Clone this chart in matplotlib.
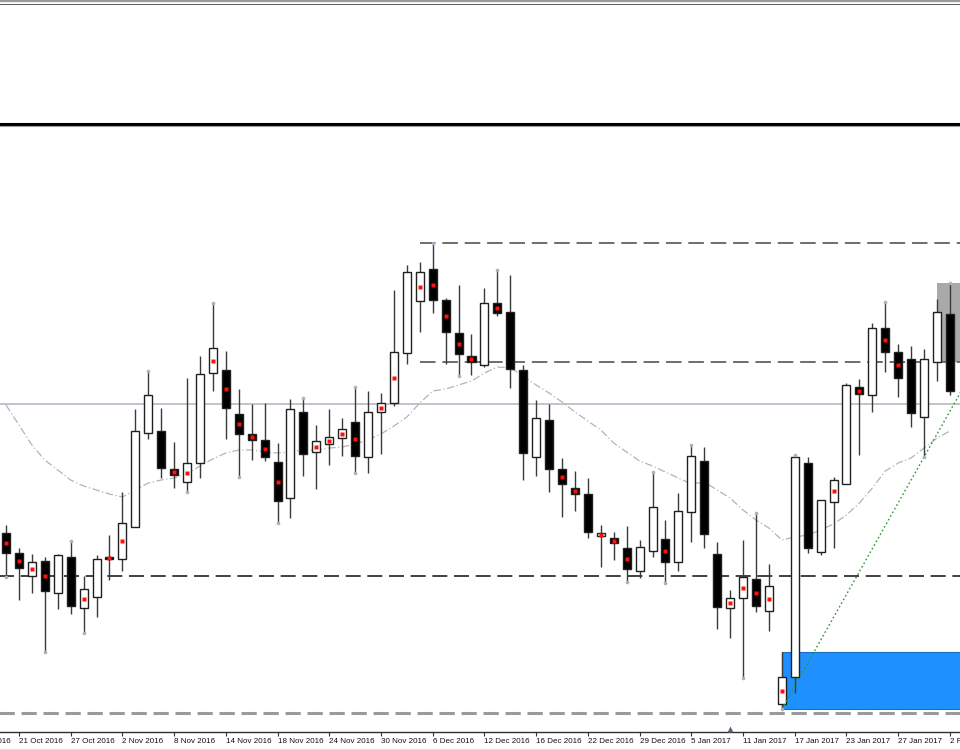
import matplotlib
matplotlib.use("Agg")
import matplotlib.pyplot as plt
import numpy as np
from matplotlib.patches import Rectangle
from matplotlib.lines import Line2D

# ---- data (price points) ----
opens = [467, 447, 424, 439, 407, 443, 392, 403, 443, 441,
         473, 567, 569, 531, 518, 537, 627, 630, 586, 566,
         560, 538, 502, 588, 548, 556, 562, 578, 543, 588,
         597, 647, 699, 731, 700, 667, 644, 635, 697, 688,
         630, 543, 580, 531, 512, 506, 464, 462, 452, 429,
         449, 461, 438, 488, 539, 446, 392, 402, 421, 389,
         296, 323, 537, 448, 498, 516, 613, 605, 672, 648,
         641, 583, 638, 686]
highs = [475, 452, 446, 443, 446, 459, 424, 445, 465, 508,
         591, 629, 592, 558, 622, 644, 697, 649, 611, 596,
         597, 557, 601, 602, 575, 591, 582, 613, 609, 607,
         710, 735, 738, 757, 702, 715, 666, 712, 730, 725,
         635, 600, 596, 542, 529, 522, 475, 468, 474, 460,
         528, 480, 507, 555, 553, 458, 410, 460, 487, 436,
         348, 545, 543, 500, 523, 617, 621, 677, 698, 656,
         654, 651, 701, 717]
lows = [423, 400, 407, 348, 391, 386, 367, 383, 420, 429,
        473, 561, 522, 512, 508, 522, 609, 561, 523, 540,
        539, 477, 482, 524, 511, 535, 544, 527, 527, 546,
        594, 636, 668, 687, 636, 624, 625, 633, 684, 612,
        520, 524, 508, 483, 489, 462, 433, 440, 418, 422,
        443, 417, 429, 458, 452, 371, 362, 322, 388, 369,
        291, 307, 447, 445, 452, 516, 545, 588, 628, 603,
        573, 543, 619, 605]
closes = [447, 432, 438, 409, 445, 394, 411, 441, 441, 477,
          569, 605, 532, 525, 537, 626, 652, 592, 566, 560,
          543, 499, 591, 546, 559, 563, 571, 544, 588, 597,
          648, 728, 728, 700, 668, 646, 638, 697, 687, 631,
          547, 582, 531, 516, 506, 468, 467, 457, 431, 453,
          493, 438, 489, 544, 466, 393, 402, 423, 394, 414,
          323, 543, 452, 500, 520, 615, 606, 672, 648, 622,
          587, 641, 688, 609]
ma_values = [595, 575, 555, 540, 530, 520, 514, 510, 506, 503,
             510, 517, 520, 522, 526, 534, 541, 547, 550, 550,
             548, 547, 548, 550, 550, 552, 553, 556, 560, 566,
             574, 583, 597, 609, 611, 615, 619, 627, 633, 632,
             624, 615, 607, 598, 588, 579, 570, 557, 548, 539,
             534, 528, 522, 516, 518, 510, 502, 490, 480, 472,
             460, 463, 465, 470, 476, 485, 497, 512, 529, 537,
             542, 552, 562, 569]
red_dot_idx = [0, 1, 2, 3, 6, 8, 9, 13, 14, 16, 17, 18, 19, 20, 21, 24, 25, 26,
               27, 29, 30, 32, 33, 34, 35, 36, 38, 43, 44, 46, 47, 48, 51, 56,
               57, 58, 59, 60, 64, 66, 68, 69]
fractal_up_idx = [5, 11, 16, 23, 27, 33, 38, 50, 53, 58, 61, 68, 73]
fractal_dn_idx = [0, 3, 6, 14, 18, 21, 27, 35, 48, 51, 57, 60, 71]

tick_idx = [-3, 1, 5, 9, 13, 17, 21, 25, 29, 33, 37, 41, 45, 49, 53, 57, 61, 65, 69, 73]
tick_labels = ["17 Oct 2016", "21 Oct 2016", "27 Oct 2016", "2 Nov 2016", "8 Nov 2016",
               "14 Nov 2016", "18 Nov 2016", "24 Nov 2016", "30 Nov 2016", "6 Dec 2016",
               "12 Dec 2016", "16 Dec 2016", "22 Dec 2016", "29 Dec 2016", "5 Jan 2017",
               "11 Jan 2017", "17 Jan 2017", "23 Jan 2017", "27 Jan 2017", "2 Feb 2017"]

level_upper = 757
level_mid = 638
level_solid = 596
level_low = 424
level_bottom = 287
level_start_idx = 32
blue_zone_idx = 60
gray_zone_idx = 72
trend_from, trend_to = 60, 71
shift_marker_idx = 56

# ---- figure ----
fig = plt.figure(figsize=(9.6, 7.5), dpi=100)
fig.patch.set_facecolor("white")
W, H = 960.0, 750.0

def fy(py):
    return 1 - py / H

# top window separators
fig.add_artist(Line2D([0, 1], [fy(1), fy(1)], color="#9a9a9a", lw=1.6))
fig.add_artist(Line2D([0, 1], [fy(3.5), fy(3.5)], color="#404040", lw=0.6))
fig.add_artist(Line2D([0, 1], [fy(123.5), fy(123.5)], color="black", lw=2.2))
fig.add_artist(Line2D([0, 1], [fy(126), fy(126)], color="#a0a0a0", lw=0.8))
fig.add_artist(Line2D([0, 1], [fy(748.5), fy(748.5)], color="#e4e4e4", lw=1.0))

ax = fig.add_axes([0, fy(732), 1, (732 - 127) / H])
ax.set_facecolor("white")
x = np.arange(len(opens))
o = np.array(opens); h = np.array(highs); l = np.array(lows); c = np.array(closes)

# zones
ax.add_patch(Rectangle((blue_zone_idx, lows[blue_zone_idx]), 80,
                       highs[blue_zone_idx] - lows[blue_zone_idx],
                       facecolor="#1e90ff", edgecolor="#1a70c0", lw=0.8, zorder=1))
ax.add_patch(Rectangle((gray_zone_idx, level_mid), 80, highs[73] - level_mid,
                       facecolor="#a9a9a9", edgecolor="none", zorder=1))

# levels
ax.axhline(level_solid, color="#b8c0cc", lw=1.3, zorder=1.5)
ax.plot([level_start_idx, 80], [level_upper, level_upper], color="#6e6e6e", lw=1.4,
        dashes=(8, 3.5), zorder=1.5)
ax.plot([level_start_idx, 80], [level_mid, level_mid], color="#6e6e6e", lw=1.4,
        dashes=(8, 3.5), zorder=1.5)
ax.plot([-5, 80], [level_low, level_low], color="#202020", lw=1.2,
        dashes=(9, 4), zorder=1.5)
ax.plot([-5, 80], [level_bottom, level_bottom], color="#9a9a9a", lw=2.2,
        dashes=(5, 2.2), zorder=1.5)

# moving average
ax.plot(x, ma_values, color="#b4b4b4", lw=0.9, linestyle=(0, (6, 2, 1, 2)), zorder=1.6)

# trend line
slope = (lows[trend_to] - lows[trend_from]) / (trend_to - trend_from)
xe = np.array([trend_from, 80])
ax.plot(xe, lows[trend_from] + slope * (xe - trend_from), color="#2e9a2e", lw=1.0,
        linestyle=(0, (1.2, 1.8)), zorder=3.5)

# candles
ax.vlines(x, l, h, color="#3a3a3a", lw=1.0, zorder=2)
bull = c >= o
bw = 0.62
body_bottom = np.minimum(o, c)
body_h = np.maximum(np.abs(c - o), 0.6)
ax.bar(x[bull], body_h[bull], bottom=body_bottom[bull], width=bw,
       color="white", edgecolor="#202020", lw=1.0, zorder=3)
ax.bar(x[~bull], body_h[~bull], bottom=body_bottom[~bull], width=bw,
       color="black", edgecolor="#202020", lw=1.0, zorder=3)

# red dots
rd = np.array(red_dot_idx)
ax.plot(rd, (o[rd] + c[rd]) / 2, linestyle="none", marker="s", ms=2.2,
        color="#ff1010", mec="none", zorder=4)

# fractals
fu = np.array(fractal_up_idx); fd = np.array(fractal_dn_idx)
ax.plot(fu, h[fu], linestyle="none", marker="o", ms=2.6, color="#a7b0c4", mec="none", zorder=4)
ax.plot(fd, l[fd], linestyle="none", marker="o", ms=2.6, color="#a7b0c4", mec="none", zorder=4)

# axis styling
for s in ["top", "left", "right"]:
    ax.spines[s].set_visible(False)
ax.spines["bottom"].set_color("#303030")
ax.spines["bottom"].set_linewidth(1.0)
ax.set_yticks([])
ax.set_xticks(tick_idx)
label_font = dict(fontsize=5.8, family="Liberation Sans", color="#101010")
ax.set_xticklabels(tick_labels, ha="left", **label_font)
ax.tick_params(axis="x", direction="out", length=3, width=0.8, color="#303030", pad=1.5)

# limits set after ticks so they are not expanded
ax.set_xlim(-0.464, 73.78)
ax.set_ylim(268, 873)

# first label lies partly left of the view; draw it explicitly so its tail shows
ax.annotate(tick_labels[0], xy=(tick_idx[0], 0), xycoords=("data", "axes fraction"),
            xytext=(0, -4.5), textcoords="offset points", ha="left", va="top",
            annotation_clip=False, **label_font)

# shift marker
ax.plot([shift_marker_idx], [271], marker="^", ms=5, color="#5a6478", mec="none",
        clip_on=False, zorder=5)
ax.set_xlim(-0.464, 73.78)
ax.set_ylim(268, 873)

fig.savefig("out.png", dpi=100, facecolor="white")
